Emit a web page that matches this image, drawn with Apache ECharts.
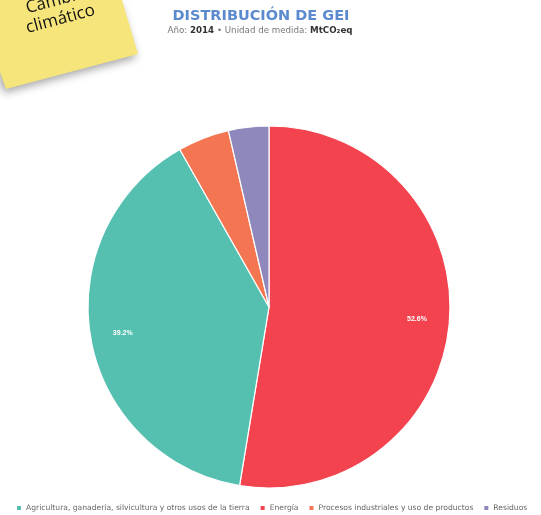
<!DOCTYPE html>
<html>
<head>
<meta charset="utf-8">
<script src="https://cdn.jsdelivr.net/npm/echarts@6/dist/echarts.min.js"></script>
<style>
html,body{margin:0;padding:0;background:#fff;}
#c{width:541px;height:515px;}
</style>
</head>
<body>
<div id="c"></div>
<script>
// Data (percent of total GEI emissions, 2014)
var categories = ['Energía', 'Agricultura, ganadería, silvicultura y otros usos de la tierra', 'Procesos industriales y uso de productos', 'Residuos'];
var values = [52.6, 39.2, 4.6, 3.6];
var colors = ['#F2434F', '#55BFB0', '#F47551', '#8F88BC'];
var legendOrder = ['Agricultura, ganadería, silvicultura y otros usos de la tierra', 'Energía', 'Procesos industriales y uso de productos', 'Residuos'];
var titleText = 'DISTRIBUCIÓN DE GEI';
var yearText = '2014';
var unitText = 'MtCO₂eq';
var noteLines = ['Cambio', 'climático'];

var chart = echarts.init(document.getElementById('c'));

var mainData = categories.map(function (n, i) {
  return { name: n, value: values[i], itemStyle: { color: colors[i] } };
});
var labelData = categories.map(function (n, i) {
  return { name: n, value: values[i], label: { show: values[i] > 10 } };
});

chart.setOption({
  animation: false,
  backgroundColor: '#fff',
  legend: {
    data: legendOrder,
    bottom: -2,
    left: 10,
    icon: 'rect',
    itemWidth: 6,
    itemHeight: 6,
    itemGap: 9,
    textStyle: { fontSize: 7.6, color: '#666', fontFamily: 'DejaVu Sans', padding: [0, 0, 0, -1] }
  },
  series: [
    {
      type: 'pie',
      center: [269, 307],
      radius: [0, 181],
      startAngle: 90,
      clockwise: true,
      label: { show: false },
      labelLine: { show: false },
      itemStyle: { borderColor: '#fff', borderWidth: 1.2 },
      data: mainData
    },
    {
      type: 'pie',
      silent: true,
      center: [269, 307],
      radius: [110, 181],
      startAngle: 90,
      clockwise: true,
      legendHoverLink: false,
      itemStyle: { color: 'rgba(0,0,0,0)' },
      label: {
        show: true, position: 'inside', color: '#fff', fontSize: 7, fontWeight: 'bold',
        formatter: function (p) { return p.value.toFixed(1) + '%'; }
      },
      labelLine: { show: false },
      data: labelData
    }
  ],
  graphic: [
    {
      type: 'text',
      x: 261, y: 16,
      style: {
        text: titleText, fontFamily: 'DejaVu Sans', fontWeight: 'bold', fontSize: 14.5,
        fill: '#5C8ACF', align: 'center', verticalAlign: 'middle'
      }
    },
    {
      type: 'text',
      x: 260, y: 31,
      style: {
        text: 'Año: {b|' + yearText + '} • Unidad de medida: {b|' + unitText + '}',
        fontFamily: 'DejaVu Sans', fontSize: 8.7, fill: '#777', align: 'center', verticalAlign: 'middle',
        rich: { b: { fontFamily: 'DejaVu Sans', fontSize: 8.7, fontWeight: 'bold', fill: '#333' } }
      }
    },
    {
      type: 'polygon',
      shape: { points: [[0, 0], [122, 0], [138, 54], [6, 89], [0, 72]] },
      style: { fill: '#F6E57A', shadowBlur: 8, shadowColor: 'rgba(0,0,0,0.35)', shadowOffsetX: -2, shadowOffsetY: 4 },
      z: 10
    },
    {
      type: 'text',
      x: 58, y: 10,
      rotation: 15 * Math.PI / 180,
      style: {
        text: noteLines.join('\n'),
        fontFamily: 'Open Sans', fontSize: 17, lineHeight: 19,
        fill: '#111', align: 'center', verticalAlign: 'middle'
      },
      z: 11
    }
  ]
});
</script>
</body>
</html>
